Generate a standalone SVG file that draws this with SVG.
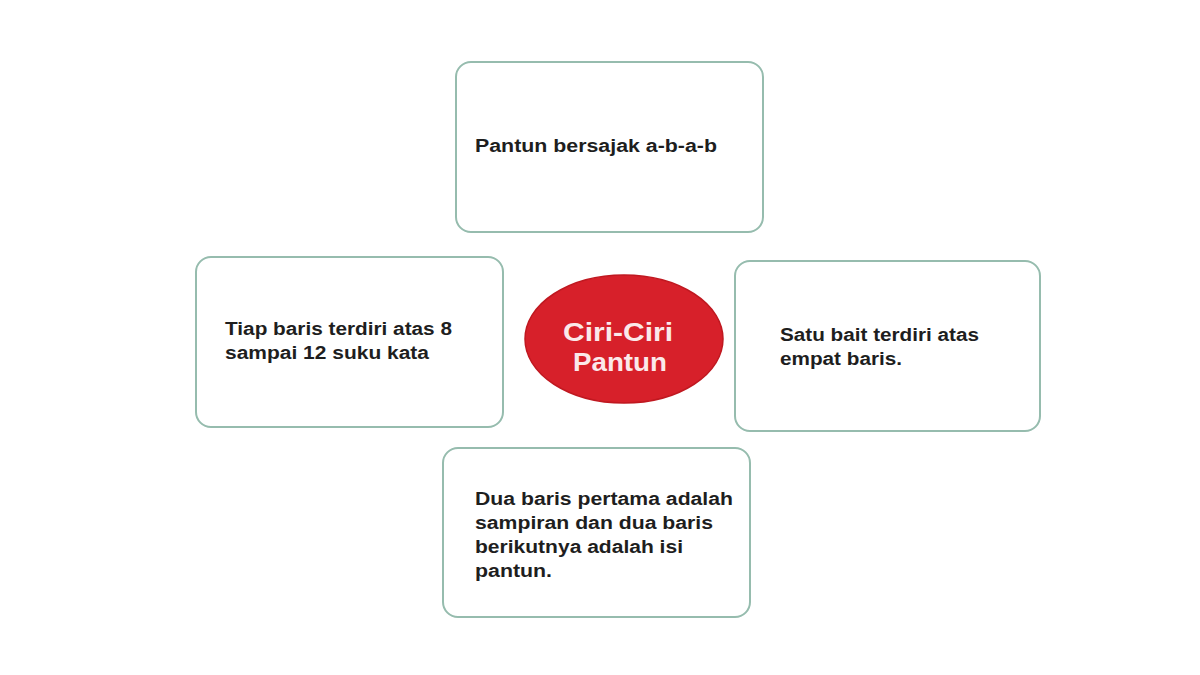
<svg xmlns="http://www.w3.org/2000/svg" width="1200" height="675" viewBox="0 0 1200 675">
<style>
.box{fill:#ffffff;stroke:#96bcae;stroke-width:2}
.t{font-family:"Liberation Sans",Arial,sans-serif;font-weight:bold;font-size:17.5px;fill:#1e1e1e}
.c{font-family:"Liberation Sans",Arial,sans-serif;font-weight:bold;font-size:26px;fill:#fbe9ea;text-anchor:middle}
</style>
<rect width="1200" height="675" fill="#ffffff"/>
<g id="connectors"></g>
<g id="top">
<rect class="box" x="456" y="62" width="307" height="170" rx="15"/>
<text class="t" x="475" y="152" textLength="242" lengthAdjust="spacingAndGlyphs">Pantun bersajak a-b-a-b</text>
</g>
<g id="left">
<rect class="box" x="196" y="257" width="307" height="170" rx="15"/>
<text class="t" x="225" y="335" textLength="227" lengthAdjust="spacingAndGlyphs">Tiap baris terdiri atas 8</text>
<text class="t" x="225" y="359" textLength="204" lengthAdjust="spacingAndGlyphs">sampai 12 suku kata</text>
</g>
<g id="right">
<rect class="box" x="735" y="261" width="305" height="170" rx="15"/>
<text class="t" x="780" y="341" textLength="199" lengthAdjust="spacingAndGlyphs">Satu bait terdiri atas</text>
<text class="t" x="780" y="365" textLength="122" lengthAdjust="spacingAndGlyphs">empat baris.</text>
</g>
<g id="bottom">
<rect class="box" x="443" y="448" width="307" height="169" rx="15"/>
<text class="t" x="475" y="505" textLength="258" lengthAdjust="spacingAndGlyphs">Dua baris pertama adalah</text>
<text class="t" x="475" y="529" textLength="238" lengthAdjust="spacingAndGlyphs">sampiran dan dua baris</text>
<text class="t" x="475" y="553" textLength="208" lengthAdjust="spacingAndGlyphs">berikutnya adalah isi</text>
<text class="t" x="475" y="577" textLength="77" lengthAdjust="spacingAndGlyphs">pantun.</text>
</g>
<g id="center">
<ellipse cx="624" cy="339" rx="99" ry="64" fill="#d7202a" stroke="#c01820" stroke-width="1.5"/>
<text class="c" x="618" y="341" textLength="110" lengthAdjust="spacingAndGlyphs">Ciri-Ciri</text>
<text class="c" x="620" y="371" textLength="94" lengthAdjust="spacingAndGlyphs">Pantun</text>
</g>
</svg>
